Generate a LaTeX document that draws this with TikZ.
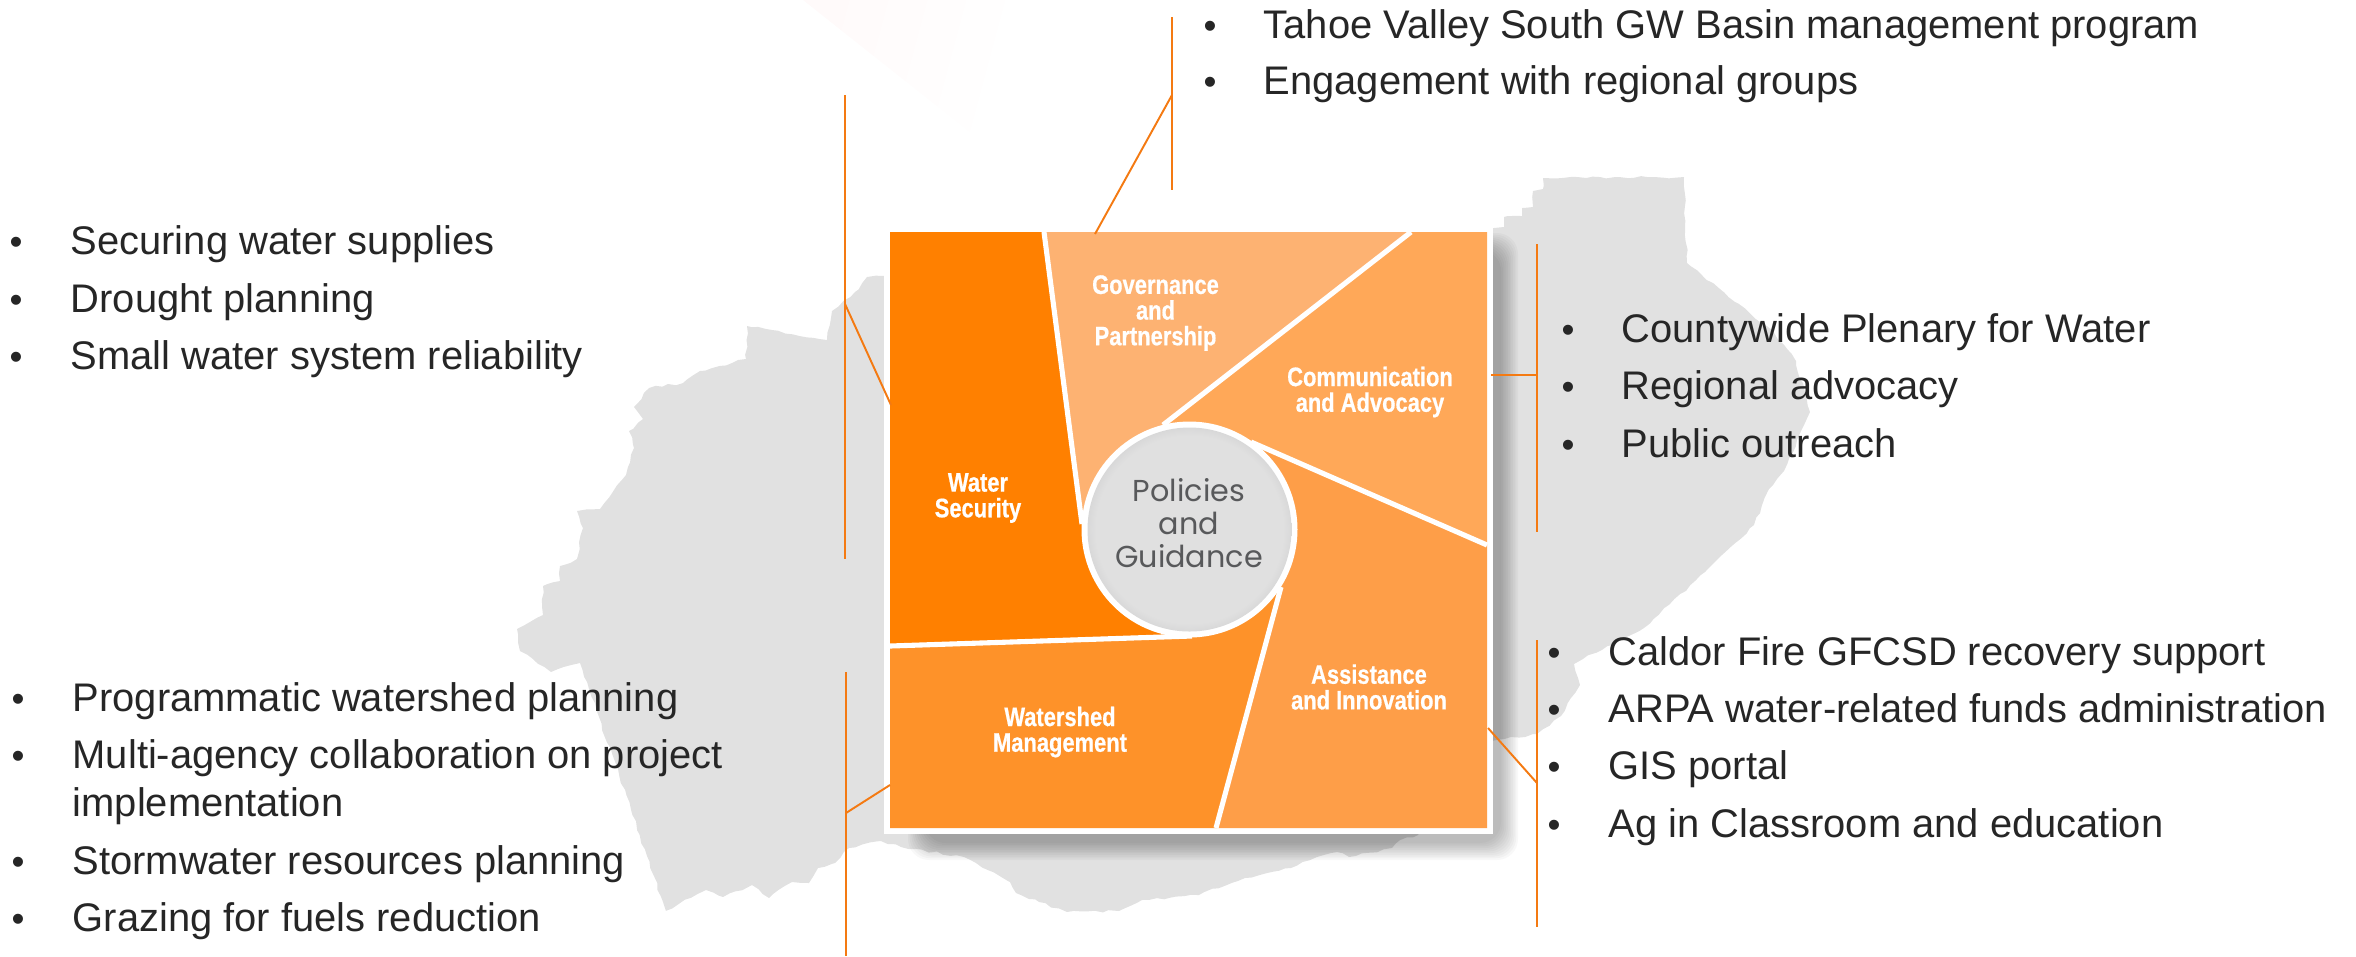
\documentclass[tikz,border=0pt]{standalone}
\usepackage{fontspec}
\usepackage{xcolor}
\usetikzlibrary{decorations.pathmorphing}
\setmainfont{Liberation Sans}
\newfontfamily\boxfont[FakeStretch=0.82,BoldFeatures={FakeBold=0.6}]{Liberation Sans}
\newfontfamily\hubfont{Poppins}
\definecolor{mapgray}{HTML}{E1E1E1}
\definecolor{linkorange}{HTML}{F47A12}
\definecolor{listink}{HTML}{262626}
\definecolor{hubink}{HTML}{58595B}
\definecolor{watersec}{HTML}{FF8000}
\definecolor{govern}{HTML}{FDB272}
\definecolor{commun}{HTML}{FFA858}
\definecolor{assist}{HTML}{FE9E48}
\definecolor{watershed}{HTML}{FE9229}
\definecolor{hubmid}{HTML}{E0E0E0}
\definecolor{hubrim}{HTML}{B0B0B2}
\pgfdeclareradialshading{hubshade}{\pgfpoint{0bp}{0bp}}{color(0bp)=(hubmid);color(23bp)=(hubmid);color(35.4bp)=(hubrim);color(50bp)=(hubrim)}
\tikzset{
  listitem/.style={anchor=base west,inner sep=0pt,text=listink,font=\fontsize{11.35}{13}\selectfont},
  listdot/.style={anchor=base,inner sep=0pt,text=listink,font=\fontsize{10.5}{13}\selectfont},
  boxlabel/.style={inner sep=0pt,align=center,text=white,font=\boxfont\bfseries\fontsize{7.6}{7.3}\selectfont},
  link/.style={linkorange,line width=0.55pt},
  divider/.style={white,line width=1.45pt}
}
\begin{document}
\begin{tikzpicture}[x=0.01cm,y=-0.01cm]
\useasboundingbox (0,0) rectangle (2356,956);

% faint wedge at the top
\shade[left color=red!2!white,right color=white,shading angle=75] (803,0) -- (977,138) -- (1010,0) -- cycle;

% county map behind everything
\pgfmathsetseed{7}
\fill[mapgray,decorate,decoration={random steps,segment length=2pt,amplitude=0.35pt}] (890,275) -- (867,277) -- (855,292) -- (832,311) -- (827,340) -- (772,330) -- (747,326) -- (746,359)
  -- (700,371) -- (683,383) -- (649,388) -- (634,407) -- (643,419) -- (629,431) -- (634,448) -- (626,475)
  -- (600,509) -- (577,511) -- (583,528) -- (577,559) -- (560,566) -- (560,581) -- (543,586) -- (543,615)
  -- (517,629) -- (520,651) -- (551,672) -- (580,663) -- (666,911) -- (706,890) -- (723,897) -- (752,885)
  -- (769,898) -- (792,882) -- (809,883) -- (818,868) -- (835,863) -- (849,848) -- (881,841) -- (901,847)
  -- (964,857) -- (976,863) -- (1010,882) -- (1016,893) -- (1039,902) -- (1067,912) -- (1119,911) -- (1142,900)
  -- (1199,895) -- (1245,878) -- (1291,868) -- (1317,857) -- (1337,852) -- (1349,857) -- (1392,848) -- (1400,840)
  -- (1418,835) -- (1491,741) -- (1537,734) -- (1561,716) -- (1580,685) -- (1574,664) -- (1583,659) -- (1644,628)
  -- (1705,572) -- (1754,525) -- (1769,489) -- (1784,471) -- (1810,412) -- (1796,361) -- (1772,330) -- (1735,302)
  -- (1687,263) -- (1684,177) -- (1543,178) -- (1543,189) -- (1533,191) -- (1533,207) -- (1522,208) -- (1522,216)
  -- (1504,217) -- (1504,227) -- (1494,228) -- cycle;

% soft shadow of the square
\foreach \k in {0,...,10}
  \fill[black,opacity=0.028,rounded corners=6pt] (925-1.7*\k,250-1.7*\k) rectangle (1501+1.7*\k,843+1.7*\k);

% square and its five sectors
\fill[white] (884,228) rectangle (1493,834);
\coordinate (hubc) at (1189.5,529.5);
\fill[watersec] (890,232) -- (1044,232) -- (1082,524) -- (hubc) -- (1192,636) -- (890,646) -- cycle;
\fill[govern] (1044,232) -- (1411,232) -- (1163,425) -- (hubc) -- (1082,524) -- cycle;
\fill[commun] (1411,232) -- (1487,232) -- (1487,545) -- (1251,442) -- (hubc) -- (1163,425) -- cycle;
\fill[assist] (1487,545) -- (1487,828) -- (1216,828) -- (1281,587) -- (hubc) -- (1251,442) -- cycle;
\fill[watershed] (890,646) -- (1192,636) -- (hubc) -- (1281,587) -- (1216,828) -- (890,828) -- cycle;
\draw[divider] (1044,232) -- (1082,524);
\draw[divider] (1411,232) -- (1163,425);
\draw[divider] (1487,545) -- (1251,442);
\draw[divider] (1216,828) -- (1281,587);
\draw[divider] (890,646) -- (1192,636);

% centre disc
\fill[white] (hubc) circle (108);
\shade[shading=hubshade] (hubc) circle (102);
\node[inner sep=0pt,align=center,text=hubink,font=\hubfont\fontsize{8.6}{9.4}\selectfont] (hub) at (1189,523) {Policies\\and\\Guidance};

\node[boxlabel] (lblwater) at (978,498) {Water\\Security};
\node[boxlabel] (lblgov) at (1155.5,313) {Governance\\and\\Partnership};
\node[boxlabel] (lblcomm) at (1370,392) {Communication\\and Advocacy};
\node[boxlabel] (lblassist) at (1369,687) {Assistance\\and Innovation};
\node[boxlabel] (lblshed) at (1060,732) {Watershed\\Management};

% brackets
\coordinate (govtop) at (1172,17);
\coordinate (govbot) at (1172,190);
\coordinate (govjoin) at (1172,95);
\coordinate (govend) at (1095,234);
\draw[link] (govtop) -- (govbot);
\draw[link] (govjoin) -- (govend);

\coordinate (sectop) at (845,95);
\coordinate (secbot) at (845,559);
\coordinate (secjoin) at (845,304);
\coordinate (secend) at (891,405);
\draw[link] (sectop) -- (secbot);
\draw[link] (secjoin) -- (secend);

\coordinate (shedtop) at (846,672);
\coordinate (shedbot) at (846,956);
\coordinate (shedjoin) at (846,813);
\coordinate (shedend) at (890,785);
\draw[link] (shedtop) -- (shedbot);
\draw[link] (shedjoin) -- (shedend);

\coordinate (commtop) at (1537,244);
\coordinate (commbot) at (1537,532);
\coordinate (commjoin) at (1537,375);
\coordinate (commend) at (1491,375);
\draw[link] (commtop) -- (commbot);
\draw[link] (commjoin) -- (commend);

\coordinate (asttop) at (1537,640);
\coordinate (astbot) at (1537,927);
\coordinate (astjoin) at (1537,783);
\coordinate (astend) at (1488,728);
\draw[link] (asttop) -- (astbot);
\draw[link] (astjoin) -- (astend);

% the five lists
\foreach \ypos/\txt [count=\i] in {38/Tahoe Valley South GW Basin management program,94.5/Engagement with regional groups}{
  \node[listdot] (govdot\i) at (1210,\ypos) {•};
  \node[listitem] (govitem\i) at (1263,\ypos) {\txt};
}
\foreach \ypos/\txt [count=\i] in {254/Securing water supplies,312/Drought planning,369/Small water system reliability}{
  \node[listdot] (secdot\i) at (16,\ypos) {•};
  \node[listitem] (secitem\i) at (70,\ypos) {\txt};
}
\foreach \ypos/\txt [count=\i] in {711/Programmatic watershed planning,768/Multi-agency collaboration on project,874/Stormwater resources planning,931/Grazing for fuels reduction}{
  \node[listdot] (sheddot\i) at (18,\ypos) {•};
  \node[listitem] (sheditem\i) at (72,\ypos) {\txt};
}
\node[listitem] (shedwrap) at (72,816) {implementation};
\foreach \ypos/\txt [count=\i] in {342/Countywide Plenary for Water,399/Regional advocacy,457/Public outreach}{
  \node[listdot] (commdot\i) at (1568,\ypos) {•};
  \node[listitem] (commitem\i) at (1621,\ypos) {\txt};
}
\foreach \ypos/\txt [count=\i] in {665/Caldor Fire GFCSD recovery support,722/ARPA water-related funds administration,779/GIS portal,837/Ag in Classroom and education}{
  \node[listdot] (astdot\i) at (1554,\ypos) {•};
  \node[listitem] (astitem\i) at (1608,\ypos) {\txt};
}
\end{tikzpicture}
\end{document}
